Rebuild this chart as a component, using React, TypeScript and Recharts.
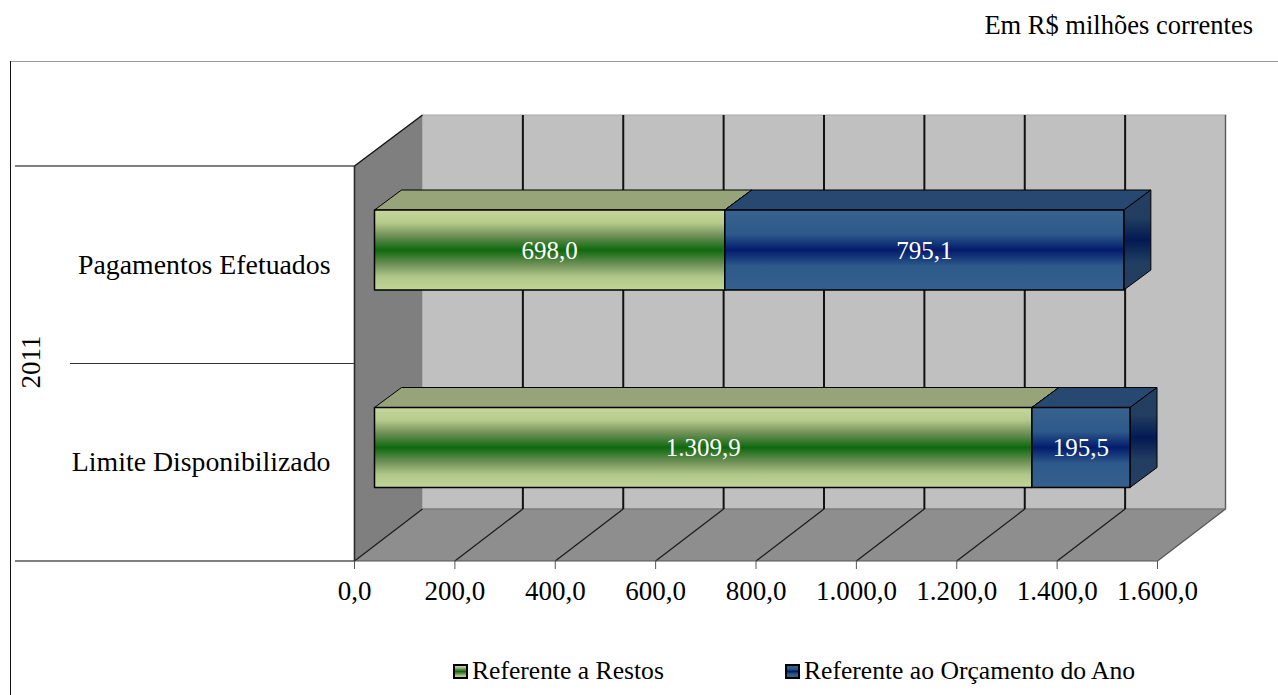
import React from "react";
import { BarChart, Bar, XAxis, YAxis, Legend, LabelList, usePlotArea } from "recharts";

const categories = ["Pagamentos Efetuados", "Limite Disponibilizado"];
const restos = [698.0, 1309.9];
const orcamento = [795.1, 195.5];
const xTicks = [0, 200, 400, 600, 800, 1000, 1200, 1400, 1600];
const groupLabel = "2011";
const unitNote = "Em R$ milhões correntes";
const seriesNames = ["Referente a Restos", "Referente ao Orçamento do Ano"];

const rows = categories.map((name, i) => ({ name, restos: restos[i], orcamento: orcamento[i] }));

const FONT = "'Liberation Serif', 'Times New Roman', serif";
const X_MAX = 1600;

// Perspective of the box: the back wall and floor recede by this much.
const WALL_DX = 68;
const WALL_DY = -52;
// Bars sit partway into the box, with a shallower extrusion of their own.
const BAR_DX = 20;
const BAR_DY = -15;
const EXTRUDE_DX = 27;
const EXTRUDE_DY = -20;

const fmt = (v: number) =>
  v.toLocaleString("pt-BR", { minimumFractionDigits: 1, maximumFractionDigits: 1 });

const Gradients = () => (
  <defs>
    <linearGradient id="greenFace" x1="0" y1="0" x2="0" y2="1">
      <stop offset="0" stopColor="#c6d89c" />
      <stop offset="0.16" stopColor="#b6ca8c" />
      <stop offset="0.32" stopColor="#6f9058" />
      <stop offset="0.5" stopColor="#0e690e" />
      <stop offset="0.68" stopColor="#6f9058" />
      <stop offset="0.84" stopColor="#b2c88a" />
      <stop offset="1" stopColor="#c0d698" />
    </linearGradient>
    <linearGradient id="blueFace" x1="0" y1="0" x2="0" y2="1">
      <stop offset="0" stopColor="#38628f" />
      <stop offset="0.3" stopColor="#2d5a8a" />
      <stop offset="0.5" stopColor="#021c6c" />
      <stop offset="0.7" stopColor="#2d5a8a" />
      <stop offset="1" stopColor="#35608e" />
    </linearGradient>
    <linearGradient id="blueSide" x1="0" y1="0" x2="0" y2="1">
      <stop offset="0" stopColor="#243f62" />
      <stop offset="0.28" stopColor="#213d60" />
      <stop offset="0.5" stopColor="#021a52" />
      <stop offset="0.72" stopColor="#213d60" />
      <stop offset="1" stopColor="#243f62" />
    </linearGradient>
  </defs>
);

// Frame, caption, back wall, side wall, floor and the grouped category rules.
const Stage = () => {
  const plot = usePlotArea();
  if (!plot) return null;
  const { x, y, width, height } = plot;
  const bottom = y + height;
  const right = x + width;
  const mid = y + height / 2;
  const backTop = y + WALL_DY + 1;
  const backBottom = bottom + WALL_DY;
  const pos = (v: number) => x + (v / X_MAX) * width;
  return (
    <g>
      <Gradients />
      <line x1={10} y1={61.5} x2={1278} y2={61.5} stroke="#9a9a9a" strokeWidth={1.2} />
      <line x1={10.5} y1={61} x2={10.5} y2={695} stroke="#111" strokeWidth={1} />
      <text x={1253} y={34} textAnchor="end" fontFamily={FONT} fontSize={26.5} fill="#000">
        {unitNote}
      </text>

      <polygon
        points={`${x + WALL_DX},${backTop} ${right + WALL_DX},${backTop} ${right + WALL_DX},${backBottom} ${x + WALL_DX},${backBottom}`}
        fill="#c0c0c0"
      />
      <line x1={x + WALL_DX} y1={backTop} x2={right + WALL_DX + 1} y2={backTop} stroke="#a8a8a8" strokeWidth={1.2} />
      <line x1={right + WALL_DX} y1={backTop} x2={right + WALL_DX} y2={backBottom} stroke="#5a5a5a" strokeWidth={1.4} />
      <polygon
        points={`${x},${y} ${x + WALL_DX},${backTop} ${x + WALL_DX},${backBottom} ${x},${bottom}`}
        fill="#7f7f7f"
      />
      <polygon
        points={`${x},${bottom} ${x + WALL_DX},${backBottom} ${right + WALL_DX},${backBottom} ${right},${bottom}`}
        fill="#8e8e8e"
      />
      <line x1={x + WALL_DX} y1={backBottom} x2={right + WALL_DX} y2={backBottom} stroke="#7b7b7b" strokeWidth={1.5} />

      {xTicks.slice(1, -1).map((t) => (
        <line key={`back-${t}`} x1={pos(t) + WALL_DX} y1={backTop} x2={pos(t) + WALL_DX} y2={backBottom} stroke="#111" strokeWidth={2} />
      ))}
      {xTicks.map((t) => (
        <line key={`floor-${t}`} x1={pos(t)} y1={bottom} x2={pos(t) + WALL_DX} y2={backBottom} stroke={t === X_MAX ? "#555" : "#1a1a1a"} strokeWidth={1.2} />
      ))}
      <line x1={x} y1={y} x2={x + WALL_DX} y2={backTop} stroke="#111" strokeWidth={1.4} />
      <line x1={x} y1={y} x2={x} y2={bottom} stroke="#2a2a2a" strokeWidth={1.6} />

      <line x1={15} y1={y} x2={x} y2={y} stroke="#000" strokeWidth={1.1} />
      <line x1={70} y1={mid} x2={x} y2={mid} stroke="#333" strokeWidth={1.1} />
      <line x1={15} y1={bottom} x2={x} y2={bottom} stroke="#000" strokeWidth={1.1} />
      <text
        x={0}
        y={0}
        transform={`translate(40, ${mid - 1.5}) rotate(-90)`}
        textAnchor="middle"
        fontFamily={FONT}
        fontSize={27}
        fill="#000"
      >
        {groupLabel}
      </text>
    </g>
  );
};

type BoxProps = { x?: number; y?: number; width?: number; height?: number };

const makeBox = (face: string, top: string, side: string) => (props: BoxProps) => {
  const x = (props.x ?? 0) + BAR_DX;
  const y = (props.y ?? 0) + BAR_DY;
  const w = props.width ?? 0;
  const h = props.height ?? 0;
  const outline = { stroke: "#000", strokeWidth: 1.5, strokeLinejoin: "round" as const };
  return (
    <g>
      <polygon
        points={`${x},${y} ${x + EXTRUDE_DX},${y + EXTRUDE_DY} ${x + w + EXTRUDE_DX},${y + EXTRUDE_DY} ${x + w},${y}`}
        fill={top}
        {...outline}
        strokeWidth={1}
      />
      <polygon
        points={`${x + w},${y} ${x + w + EXTRUDE_DX},${y + EXTRUDE_DY} ${x + w + EXTRUDE_DX},${y + h + EXTRUDE_DY} ${x + w},${y + h}`}
        fill={side}
        {...outline}
        strokeWidth={1}
      />
      <rect x={x} y={y} width={w} height={h} fill={face} {...outline} />
    </g>
  );
};

const GreenBox = makeBox("url(#greenFace)", "#97a378", "#7d8a5c");
const BlueBox = makeBox("url(#blueFace)", "#274870", "url(#blueSide)");

const ValueLabel = (props: any) => {
  const { x = 0, y = 0, width = 0, height = 0, value } = props;
  return (
    <text
      x={x + width / 2 + BAR_DX}
      y={y + height / 2 + BAR_DY}
      dy="0.34em"
      textAnchor="middle"
      fontFamily={FONT}
      fontSize={25}
      fill="#fff"
    >
      {fmt(Number(value))}
    </text>
  );
};

const LegendBody = ({ payload }: any) => (
  <div style={{ position: "relative", height: 30, fontFamily: FONT, fontSize: 25.6, color: "#000", whiteSpace: "nowrap" }}>
    {(payload ?? []).map((entry: any, i: number) => (
      <div key={entry.value} style={{ position: "absolute", left: i === 0 ? 453 : 785, top: 0, height: 30, display: "flex", alignItems: "center" }}>
        <svg width={15} height={15} style={{ marginRight: 4 }}>
          <rect x={1} y={1} width={13} height={13} fill={entry.color} stroke="#000" strokeWidth={2} />
        </svg>
        <span>{entry.value}</span>
      </div>
    ))}
  </div>
);

export default function App() {
  return (
    <div style={{ position: "absolute", left: 0, top: 0, width: 1278, height: 695, background: "#fff" }}>
      <BarChart
        width={1278}
        height={695}
        data={rows}
        layout="vertical"
        barSize={80}
        margin={{ top: 166, right: 120.5, bottom: 44, left: 0 }}
      >
        <Stage />
        <XAxis
          type="number"
          domain={[0, X_MAX]}
          ticks={xTicks}
          interval={0}
          tickFormatter={fmt}
          height={60}
          tickSize={8}
          tickMargin={12}
          tick={{ fontFamily: FONT, fontSize: 27, fill: "#000" }}
          stroke="#555"
        />
        <YAxis
          type="category"
          dataKey="name"
          width={354.5}
          axisLine={false}
          tickLine={false}
          tickSize={0}
          tickMargin={24}
          tick={{ fontFamily: FONT, fontSize: 27.8, fill: "#000", dy: -1 }}
        />
        <Bar dataKey="restos" name={seriesNames[0]} stackId="total" fill="url(#greenFace)" shape={GreenBox} isAnimationActive={false}>
          <LabelList dataKey="restos" content={ValueLabel} />
        </Bar>
        <Bar dataKey="orcamento" name={seriesNames[1]} stackId="total" fill="url(#blueFace)" shape={BlueBox} isAnimationActive={false}>
          <LabelList dataKey="orcamento" content={ValueLabel} />
        </Bar>
        <Legend
          verticalAlign="bottom"
          height={30}
          content={LegendBody}
          wrapperStyle={{ position: "absolute", left: 0, top: 656, width: 1278, height: 30 }}
        />
      </BarChart>
    </div>
  );
}
